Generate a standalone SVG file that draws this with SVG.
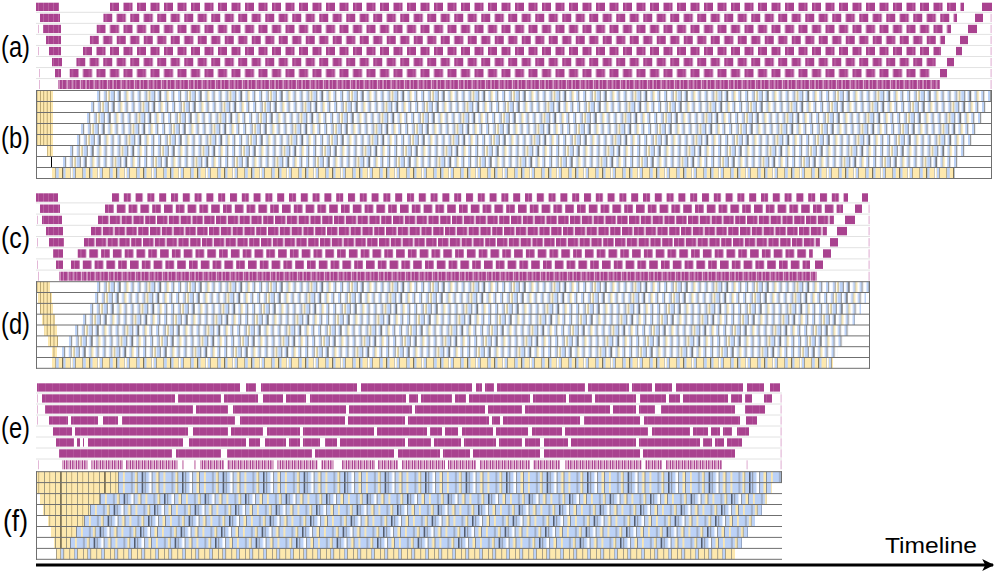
<svg xmlns="http://www.w3.org/2000/svg" width="997" height="571" viewBox="0 0 997 571">
<style>
.lbl{font-family:"Liberation Sans",Arial,sans-serif;font-size:29px;fill:#000}
.tl{font-family:"Liberation Sans",Arial,sans-serif;font-size:22px;fill:#000}
.sep{stroke:#e2e2e2;stroke-width:1}
.rl{stroke:#6f6f6f;stroke-width:1}
.pu{fill:#a9428f}
.tk{fill:#e3b8d7}
.gap{fill:#fff}
</style>
<defs>
<pattern id="pa" patternUnits="userSpaceOnUse" width="27" height="10">
<rect width="9" height="10" fill="#a9428f"/><rect x="2.5" width="0.8" height="10" fill="#c679b2"/>
<rect x="13.5" width="9" height="10" fill="#a9428f"/><rect x="19.5" width="1" height="10" fill="#bf6aa7"/>
</pattern>
<pattern id="pc1" patternUnits="userSpaceOnUse" width="23.6" height="10">
<rect width="7" height="10" fill="#a9428f"/><rect x="11.8" width="7" height="10" fill="#a9428f"/><rect x="15" width="0.8" height="10" fill="#c679b2"/>
</pattern>
<pattern id="pc2" patternUnits="userSpaceOnUse" width="23.6" height="10">
<rect width="8.6" height="10" fill="#a9428f"/><rect x="3" width="0.8" height="10" fill="#c679b2"/><rect x="11.8" width="8.6" height="10" fill="#a9428f"/>
</pattern>
<pattern id="pc3" patternUnits="userSpaceOnUse" width="23.6" height="10">
<rect width="10.4" height="10" fill="#a9428f"/><rect x="4" width="0.8" height="10" fill="#c679b2"/><rect x="11.8" width="10.4" height="10" fill="#a9428f"/><rect x="18" width="1" height="10" fill="#bf6aa7"/>
</pattern>
<pattern id="pband" patternUnits="userSpaceOnUse" width="13.5" height="10">
<rect width="13.5" height="10" fill="#a9428f"/>
<rect x="0.5" width="1" height="10" fill="#efd3e7"/><rect x="4" width="0.8" height="10" fill="#d59ac5"/>
<rect x="8.5" width="1.2" height="10" fill="#e9c5df"/><rect x="11" width="0.6" height="10" fill="#cf8dbd"/>
</pattern>
<pattern id="pl" patternUnits="userSpaceOnUse" width="5" height="10">
<rect width="5" height="10" fill="#a9428f"/><rect x="3" width="0.6" height="10" fill="#c273ac"/>
</pattern>
<pattern id="pe" patternUnits="userSpaceOnUse" width="7" height="10">
<rect width="7" height="10" fill="#a9428f"/><rect x="3" width="0.6" height="10" fill="#b95ea1"/>
</pattern>
<pattern id="pe8" patternUnits="userSpaceOnUse" width="6" height="10">
<rect width="6" height="10" fill="#ecccdf"/><rect width="1.5" height="10" fill="#b0519a"/><rect x="2.5" width="0.8" height="10" fill="#c277ad"/><rect x="4" width="1" height="10" fill="#a9428f"/>
</pattern>
<pattern id="pb" patternUnits="userSpaceOnUse" width="40.5" height="11">
<rect width="40.5" height="11" fill="#fff"/>
<rect x="0" width="2.3" height="11" fill="#bcd2f7"/><rect x="2.3" width="0.8" height="11" fill="#6a6a6a"/>
<rect x="6.75" width="2" height="11" fill="#bcd2f7"/><rect x="8.75" width="0.7" height="11" fill="#6a6a6a"/><rect x="10.8" width="1" height="11" fill="#fde8ae"/><rect x="11.8" width="0.6" height="11" fill="#9a8a57"/>
<rect x="13.5" width="3.5" height="11" fill="#bcd2f7"/><rect x="17" width="0.8" height="11" fill="#6a6a6a"/>
<rect x="20.25" width="2.1" height="11" fill="#bcd2f7"/><rect x="22.35" width="0.9" height="11" fill="#000"/>
<rect x="27" width="2.3" height="11" fill="#bcd2f7"/><rect x="29.3" width="0.7" height="11" fill="#9a8a57"/><rect x="30" width="1.3" height="11" fill="#fde8ae"/>
<rect x="33.75" width="2.2" height="11" fill="#bcd2f7"/><rect x="35.95" width="0.8" height="11" fill="#6a6a6a"/>
</pattern>
<pattern id="pb8" patternUnits="userSpaceOnUse" width="27" height="11">
<rect width="27" height="11" fill="#fde8ae"/>
<rect x="3.5" width="0.6" height="11" fill="#707070"/><rect x="4.1" width="2.65" height="11" fill="#bcd2f7"/>
<rect x="10.5" width="0.8" height="11" fill="#000"/><rect x="11.3" width="2.2" height="11" fill="#bcd2f7"/>
<rect x="18" width="0.6" height="11" fill="#707070"/><rect x="18.6" width="1.65" height="11" fill="#fff"/><rect x="20.85" width="2.2" height="11" fill="#bcd2f7"/><rect x="23.05" width="0.6" height="11" fill="#707070"/>
</pattern>
<pattern id="py" patternUnits="userSpaceOnUse" width="3.4" height="11">
<rect width="3.4" height="11" fill="#fde8ae"/><rect x="2.6" width="0.7" height="11" fill="#a08c58"/>
</pattern>
<pattern id="pfy" patternUnits="userSpaceOnUse" width="44" height="11">
<rect width="44" height="11" fill="#fde8ae"/>
<rect x="0" width="0.7" height="11" fill="#7a7a6a"/><rect x="5.5" width="0.6" height="11" fill="#a08c58"/><rect x="11" width="0.7" height="11" fill="#7a7a6a"/><rect x="16.5" width="0.9" height="11" fill="#000"/>
<rect x="22" width="0.7" height="11" fill="#7a7a6a"/><rect x="27.5" width="0.6" height="11" fill="#a08c58"/><rect x="33" width="0.7" height="11" fill="#7a7a6a"/><rect x="38.5" width="0.6" height="11" fill="#a08c58"/>
</pattern>
<pattern id="pfb" patternUnits="userSpaceOnUse" width="40.5" height="11">
<rect width="40.5" height="11" fill="#bcd2f7"/>
<rect x="0" width="0.7" height="11" fill="#707070"/><rect x="5" width="1.75" height="11" fill="#fde8ae"/>
<rect x="13.5" width="0.7" height="11" fill="#707070"/><rect x="17" width="2" height="11" fill="#fde8ae"/><rect x="19" width="0.6" height="11" fill="#9a8a57"/>
<rect x="24" width="0.9" height="11" fill="#000"/>
<rect x="27" width="0.7" height="11" fill="#707070"/><rect x="31" width="2.75" height="11" fill="#fff"/>
<rect x="33.75" width="0.7" height="11" fill="#707070"/><rect x="38" width="2.5" height="11" fill="#fde8ae"/>
</pattern>
<pattern id="pf8" patternUnits="userSpaceOnUse" width="27" height="11">
<rect width="27" height="11" fill="#fde8ae"/>
<rect x="0" width="0.6" height="11" fill="#707070"/><rect x="4.5" width="0.6" height="11" fill="#707070"/><rect x="5.1" width="2.4" height="11" fill="#bcd2f7"/><rect x="7.5" width="0.6" height="11" fill="#707070"/>
<rect x="13.5" width="0.6" height="11" fill="#707070"/><rect x="18" width="0.6" height="11" fill="#707070"/><rect x="18.6" width="2.4" height="11" fill="#bcd2f7"/><rect x="21" width="0.6" height="11" fill="#707070"/>
</pattern>
<marker id="arr" viewBox="0 0 10 10" refX="9" refY="5" markerWidth="4.5" markerHeight="4" orient="auto" markerUnits="strokeWidth"><path d="M0,0 L10,5 L0,10 L2.5,5 Z" fill="#000"/></marker>
</defs>
<rect width="997" height="571" fill="#fff"/>

<g id="labels">
<text class="lbl" x="1" y="57" textLength="29" lengthAdjust="spacingAndGlyphs">(a)</text>
<text class="lbl" x="1" y="148" textLength="29" lengthAdjust="spacingAndGlyphs">(b)</text>
<text class="lbl" x="1" y="248" textLength="29" lengthAdjust="spacingAndGlyphs">(c)</text>
<text class="lbl" x="1" y="334" textLength="29" lengthAdjust="spacingAndGlyphs">(d)</text>
<text class="lbl" x="1" y="438" textLength="29" lengthAdjust="spacingAndGlyphs">(e)</text>
<text class="lbl" x="3" y="531" textLength="25" lengthAdjust="spacingAndGlyphs">(f)</text>
</g>

<g id="panel-a">
<g class="sep">
<line x1="36" y1="12.3" x2="992" y2="12.3"/><line x1="36" y1="23.35" x2="992" y2="23.35"/><line x1="36" y1="34.4" x2="992" y2="34.4"/><line x1="36" y1="45.45" x2="992" y2="45.45"/><line x1="36" y1="56.5" x2="992" y2="56.5"/><line x1="36" y1="67.55" x2="992" y2="67.55"/><line x1="36" y1="78.6" x2="992" y2="78.6"/>
</g>
<rect x="36" y="2.7" width="23" height="8.3" fill="url(#pl)"/>
<rect x="40" y="13.75" width="20" height="8.3" fill="url(#pl)"/>
<rect x="43" y="24.8" width="18" height="8.3" fill="url(#pl)"/>
<rect x="46" y="35.85" width="15" height="8.3" fill="url(#pl)"/>
<rect x="49" y="46.9" width="12" height="8.3" fill="url(#pl)"/>
<rect x="52" y="57.95" width="10" height="8.3" fill="url(#pl)"/>
<rect x="55" y="69" width="6" height="8.3" fill="url(#pl)"/>
<rect class="tk" x="38" y="24.8" width="1" height="8.3"/><rect class="tk" x="38" y="46.9" width="1" height="8.3"/><rect class="tk" x="39" y="69" width="1" height="8.3"/><rect class="tk" x="39" y="80" width="1" height="9"/>
<g transform="translate(110,2.7)"><rect width="854" height="8.3" fill="url(#pa)"/></g>
<g transform="translate(103.25,13.75)"><rect width="853.75" height="8.3" fill="url(#pa)"/></g>
<g transform="translate(96.5,24.8)"><rect width="854.5" height="8.3" fill="url(#pa)"/></g>
<g transform="translate(89.75,35.85)"><rect width="855.25" height="8.3" fill="url(#pa)"/></g>
<g transform="translate(83,46.9)"><rect width="858" height="8.3" fill="url(#pa)"/></g>
<g transform="translate(76.25,57.95)"><rect width="859.75" height="8.3" fill="url(#pa)"/></g>
<g transform="translate(69.5,69)"><rect width="860.5" height="8.3" fill="url(#pa)"/></g>
<g transform="translate(58,80)"><rect width="882" height="9" fill="url(#pband)"/></g>
<rect class="pu" x="982" y="2.7" width="10" height="8.3"/>
<rect class="pu" x="975" y="13.75" width="8" height="8.3"/>
<rect class="pu" x="968" y="24.8" width="9" height="8.3"/>
<rect class="pu" x="960" y="35.85" width="8" height="8.3"/>
<rect class="pu" x="956" y="46.9" width="6" height="8.3"/>
<rect class="pu" x="947" y="57.95" width="7" height="8.3"/>
<rect class="pu" x="940" y="69" width="7" height="8.3"/>
<rect class="tk" x="990.5" y="13.75" width="1.2" height="8.3"/><rect class="tk" x="990.5" y="24.8" width="1.2" height="8.3"/><rect class="tk" x="990.5" y="35.85" width="1.2" height="8.3"/><rect class="tk" x="990.5" y="46.9" width="1.2" height="8.3"/><rect class="tk" x="990.5" y="57.95" width="1.2" height="8.3"/><rect class="tk" x="990.5" y="69" width="1.2" height="8.3"/><rect class="tk" x="990.5" y="80" width="1.2" height="9"/>
</g>

<g id="panel-b">
<rect x="36" y="90.5" width="17" height="55" fill="url(#py)"/>
<rect x="47" y="145.5" width="6" height="11" fill="url(#py)"/>
<rect x="51" y="156.5" width="1" height="11" fill="#000"/>
<g transform="translate(97,90.5)"><rect width="895" height="11" fill="url(#pb)"/></g>
<g transform="translate(91,101.5)"><rect width="896" height="11" fill="url(#pb)"/></g>
<g transform="translate(87,112.5)"><rect width="896" height="11" fill="url(#pb)"/></g>
<g transform="translate(81,123.5)"><rect width="896" height="11" fill="url(#pb)"/></g>
<g transform="translate(77,134.5)"><rect width="895" height="11" fill="url(#pb)"/></g>
<g transform="translate(70,145.5)"><rect width="896" height="11" fill="url(#pb)"/></g>
<g transform="translate(63,156.5)"><rect width="897" height="11" fill="url(#pb)"/></g>
<g transform="translate(52,167.5)"><rect width="903" height="11" fill="url(#pb8)"/></g>
<g class="rl">
<line x1="36" y1="90.5" x2="992" y2="90.5"/><line x1="36" y1="101.5" x2="992" y2="101.5"/><line x1="36" y1="112.5" x2="992" y2="112.5"/><line x1="36" y1="123.5" x2="992" y2="123.5"/><line x1="36" y1="134.5" x2="992" y2="134.5"/><line x1="36" y1="145.5" x2="992" y2="145.5"/><line x1="36" y1="156.5" x2="992" y2="156.5"/><line x1="36" y1="167.5" x2="992" y2="167.5"/><line x1="36" y1="178.5" x2="992" y2="178.5"/>
<line x1="36.5" y1="90" x2="36.5" y2="179"/><line x1="991.5" y1="90" x2="991.5" y2="179"/>
</g>
</g>

<g id="panel-c">
<g class="sep">
<line x1="36" y1="202.9" x2="870" y2="202.9"/><line x1="36" y1="214.1" x2="870" y2="214.1"/><line x1="36" y1="225.3" x2="870" y2="225.3"/><line x1="36" y1="236.5" x2="870" y2="236.5"/><line x1="36" y1="247.7" x2="870" y2="247.7"/><line x1="36" y1="258.9" x2="870" y2="258.9"/><line x1="36" y1="270.1" x2="870" y2="270.1"/>
</g>
<rect x="36" y="193.3" width="22" height="8.4" fill="url(#pl)"/>
<rect x="40" y="204.5" width="20" height="8.4" fill="url(#pl)"/>
<rect x="42" y="215.7" width="20" height="8.4" fill="url(#pl)"/>
<rect x="46" y="226.9" width="17" height="8.4" fill="url(#pl)"/>
<rect x="49" y="238.1" width="15" height="8.4" fill="url(#pl)"/>
<rect x="53" y="249.3" width="10" height="8.4" fill="url(#pl)"/>
<rect x="56" y="260.5" width="7" height="8.4" fill="url(#pl)"/>
<rect class="tk" x="37" y="215.7" width="1" height="8.4"/><rect class="tk" x="37" y="238.1" width="1" height="8.4"/><rect class="tk" x="37" y="260.5" width="1" height="8.4"/><rect class="tk" x="38" y="271.7" width="1" height="9"/>
<g transform="translate(112,193.3)"><rect width="736" height="8.4" fill="url(#pc1)"/></g>
<g transform="translate(105,204.5)"><rect width="738" height="8.4" fill="url(#pc2)"/></g>
<g transform="translate(98,215.7)"><rect width="736" height="8.4" fill="url(#pc3)"/></g>
<g transform="translate(91,226.9)"><rect width="736" height="8.4" fill="url(#pc3)"/></g>
<g transform="translate(84,238.1)"><rect width="736" height="8.4" fill="url(#pc3)"/></g>
<g transform="translate(77.5,249.3)"><rect width="735.5" height="8.4" fill="url(#pc2)"/></g>
<g transform="translate(71,260.5)"><rect width="739" height="8.4" fill="url(#pc2)"/></g>
<g transform="translate(59,271.7)"><rect width="758" height="9" fill="url(#pband)"/></g>
<rect class="pu" x="862" y="193.3" width="6" height="8.4"/>
<rect class="pu" x="855" y="204.5" width="7" height="8.4"/>
<rect class="pu" x="845" y="215.7" width="10" height="8.4"/>
<rect class="pu" x="837" y="226.9" width="10" height="8.4"/>
<rect class="pu" x="830" y="238.1" width="8" height="8.4"/>
<rect class="pu" x="823" y="249.3" width="8" height="8.4"/>
<rect class="pu" x="815" y="260.5" width="8" height="8.4"/>
<rect class="tk" x="868.5" y="204.5" width="1.2" height="8.4"/><rect class="tk" x="868.5" y="215.7" width="1.2" height="8.4"/><rect class="tk" x="868.5" y="226.9" width="1.2" height="8.4"/><rect class="tk" x="868.5" y="238.1" width="1.2" height="8.4"/><rect class="tk" x="868.5" y="249.3" width="1.2" height="8.4"/><rect class="tk" x="868.5" y="260.5" width="1.2" height="8.4"/><rect class="tk" x="868.5" y="271.7" width="1.2" height="9"/>
</g>

<g id="panel-d">
<rect x="36" y="281.7" width="14" height="10.8" fill="url(#py)"/>
<rect x="38" y="292.5" width="14" height="10.9" fill="url(#py)"/>
<rect x="40" y="303.4" width="13" height="10.8" fill="url(#py)"/>
<rect x="42" y="314.2" width="13" height="10.8" fill="url(#py)"/>
<rect x="44" y="325" width="13" height="10.9" fill="url(#py)"/>
<rect x="48" y="335.9" width="10" height="10.8" fill="url(#py)"/>
<rect x="52" y="346.7" width="5" height="10.8" fill="url(#py)"/>
<g transform="translate(97,281.7)"><rect width="773" height="10.8" fill="url(#pb)"/></g>
<g transform="translate(95,292.5)"><rect width="771" height="10.9" fill="url(#pb)"/></g>
<g transform="translate(90,303.4)"><rect width="771" height="10.8" fill="url(#pb)"/></g>
<g transform="translate(83,314.2)"><rect width="772" height="10.8" fill="url(#pb)"/></g>
<g transform="translate(75,325)"><rect width="775" height="10.9" fill="url(#pb)"/></g>
<g transform="translate(69,335.9)"><rect width="774" height="10.8" fill="url(#pb)"/></g>
<g transform="translate(62,346.7)"><rect width="776" height="10.8" fill="url(#pb)"/></g>
<g transform="translate(52,357.5)"><rect width="781" height="10.8" fill="url(#pb8)"/></g>
<g class="rl">
<line x1="36" y1="281.7" x2="870" y2="281.7"/><line x1="36" y1="292.5" x2="870" y2="292.5"/><line x1="36" y1="303.4" x2="870" y2="303.4"/><line x1="36" y1="314.2" x2="870" y2="314.2"/><line x1="36" y1="325" x2="870" y2="325"/><line x1="36" y1="335.9" x2="870" y2="335.9"/><line x1="36" y1="346.7" x2="870" y2="346.7"/><line x1="36" y1="357.5" x2="870" y2="357.5"/><line x1="36" y1="368.3" x2="870" y2="368.3"/>
<line x1="36.5" y1="281.2" x2="36.5" y2="368.8"/><line x1="869.5" y1="281.2" x2="869.5" y2="368.8"/>
</g>
</g>

<g id="panel-e">
<g class="sep">
<line x1="36" y1="393" x2="782" y2="393"/><line x1="36" y1="404" x2="782" y2="404"/><line x1="36" y1="415" x2="782" y2="415"/><line x1="36" y1="426" x2="782" y2="426"/><line x1="36" y1="437" x2="782" y2="437"/><line x1="36" y1="448" x2="782" y2="448"/><line x1="36" y1="459" x2="782" y2="459"/>
</g>
<rect x="37" y="383.3" width="743" height="8.3" fill="url(#pe)"/>
<rect x="42" y="394.3" width="730" height="8.3" fill="url(#pe)"/>
<rect x="45" y="405.3" width="720" height="8.3" fill="url(#pe)"/>
<rect x="49" y="416.3" width="708" height="8.3" fill="url(#pe)"/>
<rect x="53" y="427.3" width="696" height="8.3" fill="url(#pe)"/>
<rect x="56" y="438.3" width="686" height="8.3" fill="url(#pe)"/>
<rect x="59" y="449.3" width="676" height="8.3" fill="url(#pe)"/>
<rect x="62" y="460.3" width="660" height="9" fill="url(#pe8)"/>
<g class="gap">
<rect x="240" y="383" width="6" height="9"/><rect x="256" y="383" width="5" height="9"/><rect x="357" y="383" width="4" height="9"/><rect x="472" y="383" width="4" height="9"/><rect x="482" y="383" width="3" height="9"/><rect x="494" y="383" width="3" height="9"/><rect x="585" y="383" width="3" height="9"/><rect x="629" y="383" width="3" height="9"/><rect x="652" y="383" width="3" height="9"/><rect x="672" y="383" width="4" height="9"/><rect x="743" y="383" width="4" height="9"/><rect x="764" y="383" width="6" height="9"/>
<rect x="175" y="394" width="3" height="9"/><rect x="221" y="394" width="3" height="9"/><rect x="258" y="394" width="5" height="9"/><rect x="283" y="394" width="3" height="9"/><rect x="306" y="394" width="4" height="9"/><rect x="406" y="394" width="3" height="9"/><rect x="418" y="394" width="3" height="9"/><rect x="452" y="394" width="3" height="9"/><rect x="466" y="394" width="3" height="9"/><rect x="530" y="394" width="3" height="9"/><rect x="566" y="394" width="3" height="9"/><rect x="592" y="394" width="3" height="9"/><rect x="636" y="394" width="4" height="9"/><rect x="666" y="394" width="3" height="9"/><rect x="680" y="394" width="3" height="9"/><rect x="728" y="394" width="3" height="9"/><rect x="742" y="394" width="3" height="9"/><rect x="752" y="394" width="12" height="9"/>
<rect x="193" y="405" width="3" height="9"/><rect x="228" y="405" width="5" height="9"/><rect x="346" y="405" width="3" height="9"/><rect x="412" y="405" width="3" height="9"/><rect x="485" y="405" width="3" height="9"/><rect x="522" y="405" width="3" height="9"/><rect x="610" y="405" width="3" height="9"/><rect x="636" y="405" width="3" height="9"/><rect x="655" y="405" width="6" height="9"/><rect x="735" y="405" width="10" height="9"/>
<rect x="68" y="416" width="3" height="9"/><rect x="98" y="416" width="5" height="9"/><rect x="118" y="416" width="4" height="9"/><rect x="235" y="416" width="5" height="9"/><rect x="345" y="416" width="3" height="9"/><rect x="405" y="416" width="3" height="9"/><rect x="489" y="416" width="3" height="9"/><rect x="500" y="416" width="3" height="9"/><rect x="580" y="416" width="4" height="9"/><rect x="640" y="416" width="4" height="9"/><rect x="740" y="416" width="6" height="9"/>
<rect x="72" y="427" width="3" height="9"/><rect x="188" y="427" width="5" height="9"/><rect x="228" y="427" width="3" height="9"/><rect x="263" y="427" width="4" height="9"/><rect x="300" y="427" width="3" height="9"/><rect x="374" y="427" width="3" height="9"/><rect x="427" y="427" width="3" height="9"/><rect x="442" y="427" width="3" height="9"/><rect x="458" y="427" width="4" height="9"/><rect x="493" y="427" width="3" height="9"/><rect x="528" y="427" width="4" height="9"/><rect x="562" y="427" width="3" height="9"/><rect x="648" y="427" width="4" height="9"/><rect x="690" y="427" width="3" height="9"/><rect x="708" y="427" width="3" height="9"/><rect x="720" y="427" width="3" height="9"/><rect x="732" y="427" width="5" height="9"/>
<rect x="74" y="438" width="3" height="9"/><rect x="80" y="438" width="3" height="9"/><rect x="84" y="438" width="4" height="9"/><rect x="183" y="438" width="6" height="9"/><rect x="246" y="438" width="3" height="9"/><rect x="260" y="438" width="5" height="9"/><rect x="286" y="438" width="3" height="9"/><rect x="300" y="438" width="3" height="9"/><rect x="320" y="438" width="5" height="9"/><rect x="337" y="438" width="3" height="9"/><rect x="405" y="438" width="3" height="9"/><rect x="431" y="438" width="3" height="9"/><rect x="461" y="438" width="3" height="9"/><rect x="496" y="438" width="3" height="9"/><rect x="522" y="438" width="3" height="9"/><rect x="540" y="438" width="4" height="9"/><rect x="568" y="438" width="3" height="9"/><rect x="636" y="438" width="3" height="9"/><rect x="700" y="438" width="3" height="9"/><rect x="712" y="438" width="3" height="9"/><rect x="724" y="438" width="3" height="9"/>
<rect x="172" y="449" width="4" height="9"/><rect x="221" y="449" width="6" height="9"/><rect x="312" y="449" width="3" height="9"/><rect x="394" y="449" width="4" height="9"/><rect x="440" y="449" width="3" height="9"/><rect x="470" y="449" width="3" height="9"/><rect x="540" y="449" width="4" height="9"/><rect x="640" y="449" width="3" height="9"/>
<rect x="88" y="460" width="3" height="10"/><rect x="123" y="460" width="3" height="10"/><rect x="178" y="460" width="4" height="10"/><rect x="184" y="460" width="10" height="10"/><rect x="196" y="460" width="4" height="10"/><rect x="224" y="460" width="3" height="10"/><rect x="274" y="460" width="3" height="10"/><rect x="318" y="460" width="3" height="10"/><rect x="334" y="460" width="8" height="10"/><rect x="375" y="460" width="3" height="10"/><rect x="398" y="460" width="4" height="10"/><rect x="445" y="460" width="3" height="10"/><rect x="476" y="460" width="4" height="10"/><rect x="530" y="460" width="3" height="10"/><rect x="560" y="460" width="5" height="10"/><rect x="642" y="460" width="3" height="10"/><rect x="662" y="460" width="4" height="10"/>
</g>
<rect class="tk" x="37" y="394.3" width="1" height="8.3"/><rect class="tk" x="37" y="405.3" width="1" height="8.3"/><rect class="tk" x="37" y="416.3" width="1" height="8.3"/><rect class="tk" x="38" y="460.3" width="1" height="9"/>
<rect class="tk" x="780.5" y="394.3" width="1.2" height="8.3"/><rect class="tk" x="780.5" y="405.3" width="1.2" height="8.3"/><rect class="tk" x="780.5" y="416.3" width="1.2" height="8.3"/><rect class="tk" x="780.5" y="427.3" width="1.2" height="8.3"/><rect class="tk" x="780.5" y="438.3" width="1.2" height="8.3"/><rect class="tk" x="780.5" y="449.3" width="1.2" height="8.3"/><rect class="tk" x="780.5" y="460.3" width="1.2" height="9"/><rect class="tk" x="746.5" y="460.3" width="1.2" height="9"/>
</g>

<g id="panel-f">
<rect x="37" y="471.7" width="81" height="10.9" fill="url(#pfy)"/>
<rect x="37" y="482.6" width="81" height="11" fill="url(#pfy)"/>
<rect x="40" y="493.6" width="60" height="10.9" fill="url(#pfy)"/>
<rect x="43" y="504.5" width="47" height="11" fill="url(#pfy)"/>
<rect x="48" y="515.5" width="36" height="11" fill="url(#pfy)"/>
<rect x="51" y="526.5" width="25" height="10.9" fill="url(#pfy)"/>
<rect x="54" y="537.4" width="16" height="11" fill="url(#pfy)"/>
<g transform="translate(118,471.7)"><rect width="664" height="10.9" fill="url(#pfb)"/></g>
<g transform="translate(118,482.6)"><rect width="654" height="11" fill="url(#pfb)"/></g>
<g transform="translate(100,493.6)"><rect width="667" height="10.9" fill="url(#pfb)"/></g>
<g transform="translate(90,504.5)"><rect width="672" height="11" fill="url(#pfb)"/></g>
<g transform="translate(84,515.5)"><rect width="671" height="11" fill="url(#pfb)"/></g>
<g transform="translate(76,526.5)"><rect width="672" height="10.9" fill="url(#pfb)"/></g>
<g transform="translate(70,537.4)"><rect width="672" height="11" fill="url(#pfb)"/></g>
<g transform="translate(56,548.4)"><rect width="679" height="10.9" fill="url(#pf8)"/></g>
<g class="rl">
<line x1="36" y1="471.7" x2="782" y2="471.7"/><line x1="36" y1="482.6" x2="782" y2="482.6"/><line x1="36" y1="493.6" x2="782" y2="493.6"/><line x1="36" y1="504.5" x2="782" y2="504.5"/><line x1="36" y1="515.5" x2="782" y2="515.5"/><line x1="36" y1="526.5" x2="782" y2="526.5"/><line x1="36" y1="537.4" x2="782" y2="537.4"/><line x1="36" y1="548.4" x2="782" y2="548.4"/><line x1="36" y1="559.3" x2="782" y2="559.3"/>
<line x1="36.5" y1="471.2" x2="36.5" y2="559.8"/><line x1="781.5" y1="471.2" x2="781.5" y2="482.6"/>
</g>
</g>

<g id="connectors">
<line x1="36" y1="565" x2="993" y2="565" stroke="#000" stroke-width="3" marker-end="url(#arr)"/>
</g>
<text class="tl" x="885" y="553" textLength="92" lengthAdjust="spacingAndGlyphs">Timeline</text>
</svg>
